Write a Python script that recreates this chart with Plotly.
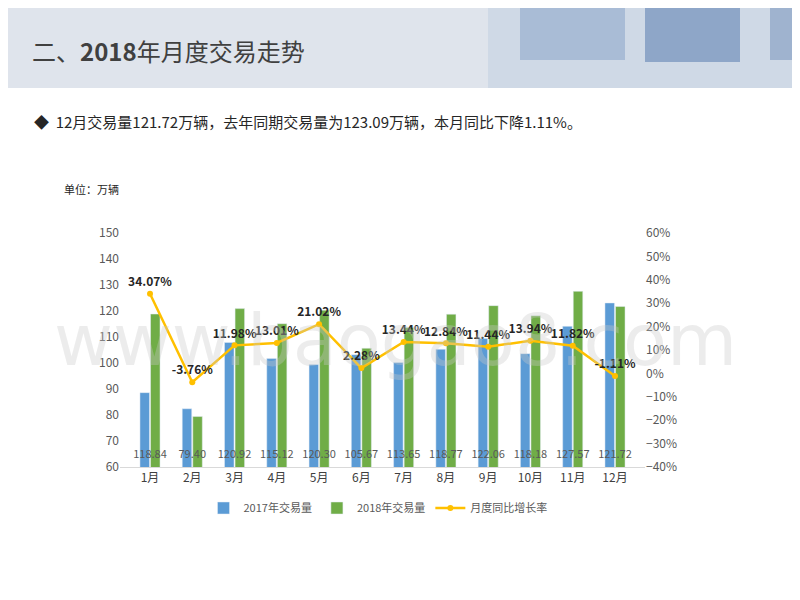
import plotly.graph_objects as go

months = ["1月", "2月", "3月", "4月", "5月", "6月", "7月", "8月", "9月", "10月", "11月", "12月"]
vol_2017 = [88.6, 82.4, 107.9, 101.7, 99.4, 103.2, 100.2, 105.3, 109.4, 103.6, 114.1, 123.1]
vol_2018 = [118.84, 79.40, 120.92, 115.12, 120.30, 105.67, 113.65, 118.77, 122.06, 118.18, 127.57, 121.72]
growth = [34.07, -3.76, 11.98, 13.01, 21.02, 2.28, 13.44, 12.84, 11.44, 13.94, 11.82, -1.11]

font = "Noto Sans CJK SC"
off = 8  # page body margin


def px(x):
    return (x - off) / 800


def py(y):
    return 1 - (y - off) / 600


fig = go.Figure()

fig.add_trace(go.Bar(x=months, y=vol_2017, name="2017年交易量", marker_color="#5b9bd5", base=0))
fig.add_trace(go.Bar(x=months, y=vol_2018, name="2018年交易量", marker_color="#70ad47", base=0))
fig.add_trace(go.Scatter(
    x=months, y=[64.5] * len(months), mode="text", showlegend=False,
    text=["%.2f" % v for v in vol_2018], textfont=dict(size=11, color="#595959", family=font)))
fig.add_trace(go.Scatter(
    x=months, y=growth, name="月度同比增长率", yaxis="y2", mode="lines+markers+text",
    line=dict(color="#ffc000", width=2.5), marker=dict(size=6, color="#ffc000"),
    text=["<b>%.2f%%</b>" % g for g in growth], textposition="top center",
    textfont=dict(size=12, color="#262626", family=font)))

fig.update_layout(
    width=800, height=600, margin=dict(l=0, r=0, t=0, b=0, autoexpand=False),
    paper_bgcolor="white", plot_bgcolor="white",
    font=dict(family=font, color="#595959", size=12),
    barmode="group", bargap=0.5, bargroupgap=0.1,
    xaxis=dict(domain=[px(120), px(645)], anchor="y", showline=True, linecolor="#d9d9d9",
               tickfont=dict(size=12, color="#404040"), automargin=False),
    yaxis=dict(domain=[py(467), py(233)], range=[60, 150], dtick=10, showgrid=False,
               tickfont=dict(size=12, color="#595959"), automargin=False),
    yaxis2=dict(overlaying="y", side="right", range=[-40, 60], dtick=10, ticksuffix="%",
                showgrid=False, tickfont=dict(size=12, color="#595959"), automargin=False),
    legend=dict(orientation="h", x=px(378), xanchor="center", y=py(508), yanchor="middle",
                font=dict(size=11, color="#595959")),
    shapes=[
        dict(type="rect", xref="paper", yref="paper", x0=0, x1=1, y0=py(88), y1=1,
             line_width=0, fillcolor="#dfe4ec", layer="below"),
        dict(type="rect", xref="paper", yref="paper", x0=0.6, x1=1, y0=py(88), y1=1,
             line_width=0, fillcolor="#c5d2e3", opacity=0.6, layer="below"),
        dict(type="rect", xref="paper", yref="paper", x0=px(520), x1=px(625),
             y0=py(60), y1=1, line_width=0, fillcolor="#a9bcd6", layer="below"),
        dict(type="rect", xref="paper", yref="paper", x0=px(645), x1=px(740),
             y0=py(62), y1=1, line_width=0, fillcolor="#8ea6c8", layer="below"),
        dict(type="rect", xref="paper", yref="paper", x0=px(770), x1=1,
             y0=py(60), y1=1, line_width=0, fillcolor="#9fb3cf", layer="below"),
    ],
    annotations=[
        dict(text="二、<b>2018</b>年月度交易走势", xref="paper", yref="paper", x=px(30), y=py(50),
             xanchor="left", yanchor="middle", showarrow=False,
             font=dict(size=24, color="#404040", family=font)),
        dict(text="◆  12月交易量121.72万辆，去年同期交易量为123.09万辆，本月同比下降1.11%。",
             xref="paper", yref="paper", x=px(32), y=py(121), xanchor="left", yanchor="middle",
             showarrow=False, font=dict(size=15, color="#262626", family=font)),
        dict(text="单位：万辆", xref="paper", yref="paper", x=px(62), y=py(189),
             xanchor="left", yanchor="middle", showarrow=False,
             font=dict(size=11, color="#262626", family=font)),
        dict(text="www.baogao8.com", xref="paper", yref="paper", x=px(395), y=py(340),
             showarrow=False, font=dict(size=72, color="rgba(200,200,200,0.35)", family="DejaVu Sans")),
    ],
)

fig.write_html("out.html")
